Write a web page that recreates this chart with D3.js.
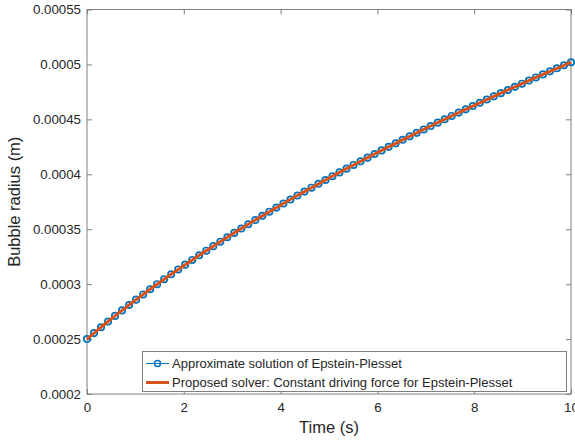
<!DOCTYPE html>
<html>
<head>
<style>
  body { margin: 0; background: #fff; }
  text { font-family: "Liberation Sans", Arial, Helvetica, sans-serif; fill: #262626; }
</style>
</head>
<body>

<script src="https://d3js.org/d3.v7.min.js"></script>
<script>

const width = 575;
const height = 441;

// sample times (s)
const times = [
  0, 0.145, 0.290, 0.435, 0.580, 0.725, 0.870, 1.014, 1.159, 1.304,
  1.449, 1.594, 1.739, 1.884, 2.029, 2.174, 2.319, 2.464, 2.609, 2.754,
  2.899, 3.043, 3.188, 3.333, 3.478, 3.623, 3.768, 3.913, 4.058, 4.203,
  4.348, 4.493, 4.638, 4.783, 4.928, 5.072, 5.217, 5.362, 5.507, 5.652,
  5.797, 5.942, 6.087, 6.232, 6.377, 6.522, 6.667, 6.812, 6.957, 7.101,
  7.246, 7.391, 7.536, 7.681, 7.826, 7.971, 8.116, 8.261, 8.406, 8.551,
  8.696, 8.841, 8.986, 9.130, 9.275, 9.420, 9.565, 9.710, 9.855, 10
];

// approximate solution, bubble radius (m)
const approxRadius = [
  2.5000e-4, 2.5543e-4, 2.6076e-4, 2.6597e-4, 2.7108e-4, 2.7610e-4, 2.8103e-4, 2.8588e-4, 2.9064e-4, 2.9533e-4,
  2.9994e-4, 3.0448e-4, 3.0896e-4, 3.1337e-4, 3.1773e-4, 3.2202e-4, 3.2625e-4, 3.3044e-4, 3.3457e-4, 3.3865e-4,
  3.4268e-4, 3.4666e-4, 3.5060e-4, 3.5450e-4, 3.5835e-4, 3.6216e-4, 3.6593e-4, 3.6967e-4, 3.7336e-4, 3.7702e-4,
  3.8065e-4, 3.8424e-4, 3.8779e-4, 3.9132e-4, 3.9481e-4, 3.9828e-4, 4.0171e-4, 4.0511e-4, 4.0849e-4, 4.1184e-4,
  4.1516e-4, 4.1845e-4, 4.2172e-4, 4.2497e-4, 4.2818e-4, 4.3138e-4, 4.3455e-4, 4.3770e-4, 4.4083e-4, 4.4393e-4,
  4.4701e-4, 4.5007e-4, 4.5311e-4, 4.5613e-4, 4.5913e-4, 4.6211e-4, 4.6508e-4, 4.6802e-4, 4.7094e-4, 4.7385e-4,
  4.7674e-4, 4.7961e-4, 4.8247e-4, 4.8531e-4, 4.8813e-4, 4.9093e-4, 4.9372e-4, 4.9649e-4, 4.9925e-4, 5.0200e-4
];

// proposed solver lies on top of the approximate solution
const solverRadius = approxRadius.slice();

const xTicks = [0, 2, 4, 6, 8, 10];
const yTicks = [0.0002, 0.00025, 0.0003, 0.00035, 0.0004, 0.00045, 0.0005, 0.00055];
const yTickLabels = ['0.0002', '0.00025', '0.0003', '0.00035', '0.0004', '0.00045', '0.0005', '0.00055'];

const seriesNames = [
  'Approximate solution of Epstein-Plesset',
  'Proposed solver: Constant driving force for Epstein-Plesset'
];

const blue = '#0072BD';
const orange = '#D95319';
const axisColor = '#808080';

const margin = {left: 87, right: 4, top: 9.5, bottom: 47};
const x0 = margin.left, x1 = width - margin.right;
const y0 = height - margin.bottom, y1 = margin.top;

const svg = d3.select('body')
  .append('svg')
  .attr('width', width)
  .attr('height', height);

const x = d3.scaleLinear().domain([0, 10]).range([x0, x1]);
const y = d3.scaleLinear().domain([0.0002, 0.00055]).range([y0, y1]);

// axes (ticks inward, box on all sides)
const tickLen = 5;
svg.append('g')
  .attr('transform', `translate(0,${y0})`)
  .call(d3.axisBottom(x).tickValues(xTicks).tickSize(-tickLen).tickPadding(9))
  .call(g => g.select('.domain').remove());
svg.append('g')
  .attr('transform', `translate(0,${y1})`)
  .call(d3.axisTop(x).tickValues(xTicks).tickSize(-tickLen).tickFormat(''))
  .call(g => g.select('.domain').remove());
svg.append('g')
  .attr('transform', `translate(${x0},0)`)
  .call(d3.axisLeft(y).tickValues(yTicks).tickSize(-tickLen).tickPadding(6)
    .tickFormat((d, i) => yTickLabels[i]))
  .call(g => g.select('.domain').remove());
svg.append('g')
  .attr('transform', `translate(${x1},0)`)
  .call(d3.axisRight(y).tickValues(yTicks).tickSize(-tickLen).tickFormat(''))
  .call(g => g.select('.domain').remove());

svg.selectAll('.tick line').attr('stroke', axisColor);
svg.selectAll('.tick text')
  .attr('font-size', 13.3)
  .attr('fill', '#262626')
  .attr('font-family', '"Liberation Sans", Arial, sans-serif');

svg.append('rect')
  .attr('x', x0).attr('y', y1)
  .attr('width', x1 - x0).attr('height', y0 - y1)
  .attr('fill', 'none')
  .attr('stroke', axisColor)
  .attr('stroke-width', 1);

// axis titles
svg.append('text')
  .attr('x', (x0 + x1) / 2)
  .attr('y', 433)
  .attr('text-anchor', 'middle')
  .attr('font-size', 16.5)
  .text('Time (s)');

svg.append('text')
  .attr('transform', `translate(19.5,${(y0 + y1) / 2}) rotate(-90)`)
  .attr('text-anchor', 'middle')
  .attr('font-size', 16.5)
  .text('Bubble radius (m)');

// data
const pts = times.map((t, i) => ({t, r: approxRadius[i], s: solverRadius[i]}));

svg.append('path')
  .datum(pts)
  .attr('d', d3.line().x(d => x(d.t)).y(d => y(d.r)))
  .attr('fill', 'none')
  .attr('stroke', blue)
  .attr('stroke-width', 1);

svg.selectAll('circle.pt')
  .data(pts)
  .enter()
  .append('circle')
  .attr('class', 'pt')
  .attr('cx', d => x(d.t))
  .attr('cy', d => y(d.r))
  .attr('r', 3.2)
  .attr('fill', 'none')
  .attr('stroke', blue)
  .attr('stroke-width', 1.7);

svg.append('path')
  .datum(pts)
  .attr('d', d3.line().x(d => x(d.t)).y(d => y(d.s)))
  .attr('fill', 'none')
  .attr('stroke', orange)
  .attr('stroke-width', 3);

// legend
const legend = svg.append('g');
legend.append('rect')
  .attr('x', 142.5).attr('y', 351.5)
  .attr('width', 424).attr('height', 40)
  .attr('fill', '#fff')
  .attr('stroke', axisColor)
  .attr('stroke-width', 1);

const rowY = [363.5, 382.5];
legend.append('line')
  .attr('x1', 146).attr('x2', 169)
  .attr('y1', rowY[0]).attr('y2', rowY[0])
  .attr('stroke', blue).attr('stroke-width', 1);
legend.append('circle')
  .attr('cx', 157.5).attr('cy', rowY[0]).attr('r', 3)
  .attr('fill', 'none').attr('stroke', blue).attr('stroke-width', 1.5);
legend.append('line')
  .attr('x1', 146).attr('x2', 169)
  .attr('y1', rowY[1]).attr('y2', rowY[1])
  .attr('stroke', orange).attr('stroke-width', 3);

legend.selectAll('text.lbl')
  .data(seriesNames)
  .enter()
  .append('text')
  .attr('class', 'lbl')
  .attr('x', 172)
  .attr('y', (d, i) => rowY[i] + 4.5)
  .attr('font-size', 13)
  .attr('fill', '#000')
  .text(d => d);

</script>
</body>
</html>
